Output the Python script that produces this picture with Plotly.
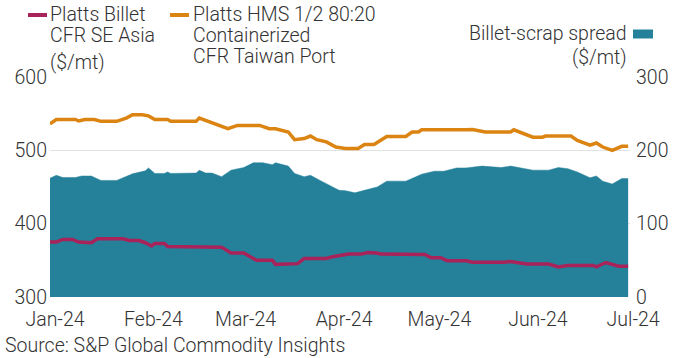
import plotly.graph_objects as go

# ---------------- data ----------------
billet_dates = ["2024-01-01", "2024-01-03", "2024-01-05", "2024-01-08", "2024-01-10", "2024-01-14",
                "2024-01-16", "2024-01-24", "2024-01-26", "2024-01-29", "2024-01-31", "2024-02-02",
                "2024-02-03", "2024-02-06", "2024-02-07", "2024-02-21", "2024-02-24", "2024-02-27",
                "2024-03-02", "2024-03-06", "2024-03-11", "2024-03-12", "2024-03-17", "2024-03-19",
                "2024-03-21", "2024-03-28", "2024-03-30", "2024-04-04", "2024-04-08", "2024-04-10",
                "2024-04-13", "2024-04-14", "2024-04-28", "2024-04-30", "2024-05-03", "2024-05-05",
                "2024-05-11", "2024-05-13", "2024-05-23", "2024-05-25", "2024-05-30", "2024-06-06",
                "2024-06-09", "2024-06-12", "2024-06-20", "2024-06-21", "2024-06-24", "2024-06-28",
                "2024-07-01"]
billet = [375, 375, 378.5, 378.5, 375, 374,
          379.5, 379.5, 377, 377, 374, 369.5,
          373, 373, 369, 368.5, 368, 360,
          360, 350, 350, 344.5, 344.5, 345.5,
          352.5, 352.5, 355, 358.5, 358.5, 360.5,
          360, 358.5, 358, 353.5, 353.5, 349.5,
          349.5, 347.5, 347.5, 348.5, 345, 345,
          341, 343, 343, 341, 347, 342,
          342]

hms_dates = ["2024-01-01", "2024-01-03", "2024-01-09", "2024-01-10", "2024-01-12", "2024-01-15",
             "2024-01-17", "2024-01-22", "2024-01-25", "2024-01-27", "2024-01-30", "2024-02-01",
             "2024-02-03", "2024-02-07", "2024-02-08", "2024-02-16", "2024-02-17", "2024-02-19",
             "2024-02-22", "2024-02-26", "2024-02-29", "2024-03-07", "2024-03-10", "2024-03-12",
             "2024-03-16", "2024-03-18", "2024-03-21", "2024-03-23", "2024-03-25", "2024-03-28",
             "2024-03-31", "2024-04-03", "2024-04-07", "2024-04-09", "2024-04-12", "2024-04-16",
             "2024-04-22", "2024-04-24", "2024-04-26", "2024-04-27", "2024-05-11", "2024-05-13",
             "2024-05-17", "2024-05-25", "2024-05-26", "2024-06-01", "2024-06-04", "2024-06-05",
             "2024-06-13", "2024-06-15", "2024-06-19", "2024-06-21", "2024-06-23", "2024-06-26",
             "2024-06-29", "2024-07-01"]
hms = [536, 542, 542, 540, 542, 542,
       539.5, 539.5, 544, 548.5, 548.5, 547,
       542, 542, 539.5, 539.5, 544, 541,
       535.5, 529.5, 534, 534, 529.5, 529.5,
       525, 514.5, 516, 519.5, 514.5, 511.5,
       504.5, 502.5, 502.5, 508, 508, 519,
       519, 525, 525, 528, 528, 528.5,
       525, 525, 528, 518, 518, 519.5,
       519.5, 513.5, 507, 510, 504.5, 500,
       505.5, 505.5]

spread_dates = ["2024-01-01", "2024-01-03", "2024-01-05", "2024-01-09", "2024-01-11", "2024-01-14",
                "2024-01-17", "2024-01-22", "2024-01-27", "2024-01-31", "2024-02-01", "2024-02-03",
                "2024-02-06", "2024-02-07", "2024-02-08", "2024-02-16", "2024-02-17", "2024-02-19",
                "2024-02-21", "2024-02-24", "2024-02-27", "2024-03-02", "2024-03-05", "2024-03-08",
                "2024-03-11", "2024-03-12", "2024-03-16", "2024-03-18", "2024-03-21", "2024-03-23",
                "2024-03-26", "2024-03-29", "2024-04-01", "2024-04-03", "2024-04-06", "2024-04-09",
                "2024-04-13", "2024-04-16", "2024-04-22", "2024-04-25", "2024-04-27", "2024-05-01",
                "2024-05-04", "2024-05-08", "2024-05-11", "2024-05-16", "2024-05-22", "2024-05-25",
                "2024-06-01", "2024-06-06", "2024-06-09", "2024-06-12", "2024-06-15", "2024-06-19",
                "2024-06-21", "2024-06-23", "2024-06-26", "2024-06-29", "2024-07-01"]
spread = [162, 166, 163, 163, 165, 165,
          159, 159, 168, 172, 176, 168.5,
          168.5, 170.5, 168.5, 169, 173, 169,
          169, 164, 173, 176.5, 183, 183,
          180.5, 183, 178.5, 168.5, 164, 166,
          159, 152.5, 145.5, 145, 142, 145.5,
          150, 158, 158, 163.5, 167.5, 171.5,
          171.5, 176, 176, 178.5, 176.5, 178.5,
          173, 173, 176.5, 175, 170.5, 162.5,
          165, 158, 154, 161.5, 161.5]

month_ticks = ["2024-01-01", "2024-02-01", "2024-03-01", "2024-04-01",
               "2024-05-01", "2024-06-01", "2024-07-01"]
month_labels = ["Jan-24", "Feb-24", "Mar-24", "Apr-24", "May-24", "Jun-24", "Jul-24"]
left_ticks = [300, 400, 500, 600]
right_ticks = [0, 100, 200, 300]

name_billet = "Platts Billet<br>CFR SE Asia"
name_hms = "Platts HMS 1/2 80:20<br>Containerized<br>CFR Taiwan Port"
name_spread = "Billet-scrap spread"
unit = "($/mt)"
source = "Source: S&P Global Commodity Insights"

# ---------------- style ----------------
RED = "#A8235A"
ORANGE = "#DB8412"
TEAL = "#25809A"
TXT = "#333333"
FONT = "Roboto"
FS = 19.5
FW = 300
W, H = 691, 358
ML, MR, MT, MB = 50, 61, 77, 61
PW, PH = W - ML - MR, H - MT - MB


def px(x, y):
    return (x - ML) / PW, (H - MB - y) / PH


fig = go.Figure()
fig.add_trace(go.Scatter(x=spread_dates, y=spread, mode="lines", fill="tozeroy",
                         fillcolor=TEAL, line=dict(color=TEAL, width=0.5),
                         yaxis="y", name=name_spread, showlegend=False))
fig.add_trace(go.Scatter(x=hms_dates, y=hms, mode="lines", line=dict(color=ORANGE, width=3.5),
                         yaxis="y2", name=name_hms, showlegend=False))
fig.add_trace(go.Scatter(x=billet_dates, y=billet, mode="lines", line=dict(color=RED, width=3.5),
                         yaxis="y2", name=name_billet, showlegend=False))

shapes = []
annotations = []


def legend_line(x0, x1, y, color):
    a0, b0 = px(x0, y)
    a1, _ = px(x1, y)
    shapes.append(dict(type="line", xref="paper", yref="paper", x0=a0, x1=a1, y0=b0, y1=b0,
                       line=dict(color=color, width=4)))


def text(x, y, s, anchor="left", size=FS):
    a, b = px(x, y)
    annotations.append(dict(text=s, xref="paper", yref="paper", x=a, y=b, xanchor=anchor,
                            yanchor="middle", showarrow=False, align=anchor,
                            font=dict(family=FONT, size=size, color=TXT, weight=FW)))


legend_line(28, 47, 15, RED)
text(48, 14.5, "Platts Billet")
text(48, 35.5, "CFR SE Asia")
legend_line(170, 189, 15, ORANGE)
text(191, 14.5, "Platts HMS 1/2 80:20")
text(191, 35, "Containerized")
text(191, 56.5, "CFR Taiwan Port")
text(48, 63, unit)
text(629, 33, name_spread, anchor="right")
text(629, 57, unit, anchor="right")
a0, b0 = px(633, 29.5)
a1, b1 = px(653, 38.5)
shapes.append(dict(type="rect", xref="paper", yref="paper", x0=a0, x1=a1, y0=b1, y1=b0,
                   fillcolor=TEAL, line=dict(width=0)))
text(3, 345, source)

tf = dict(family=FONT, size=FS, color=TXT, weight=FW)
fig.update_layout(
    width=W, height=H,
    margin=dict(l=ML, r=MR, t=MT, b=MB, pad=0),
    paper_bgcolor="white", plot_bgcolor="white",
    font=tf,
    showlegend=False,
    xaxis=dict(type="date", range=["2024-01-01", "2024-07-01 14:00"],
               tickvals=month_ticks, ticktext=month_labels, ticklabelshift=5,
               ticklabelstandoff=8,
               showgrid=False, zeroline=False, showline=False, ticks="",
               tickfont=tf),
    yaxis=dict(side="right", range=[0, 300], tickvals=right_ticks, ticklabelstandoff=5,
               showgrid=True, gridcolor="#e2e2e2", gridwidth=1, zeroline=False,
               showline=False, ticks="", tickfont=tf),
    yaxis2=dict(side="left", overlaying="y", range=[300, 600], tickvals=left_ticks,
                ticklabelstandoff=2,
                showgrid=False, zeroline=False, showline=False, ticks="",
                tickfont=tf),
    shapes=shapes, annotations=annotations,
)

fig.write_html("out.html", config={"displayModeBar": False},
               post_script="document.body.style.margin='0';")
